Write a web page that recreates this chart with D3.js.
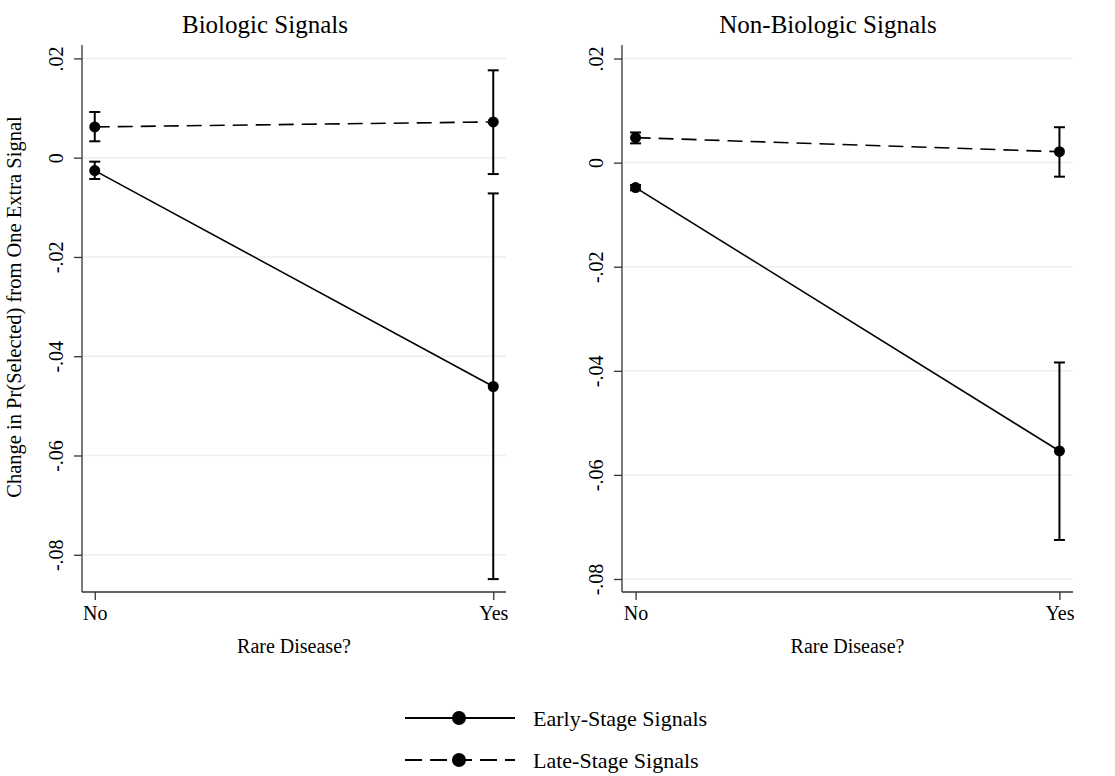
<!DOCTYPE html>
<html>
<head>
<meta charset="utf-8">
<script src="https://cdn.jsdelivr.net/npm/d3@7"></script>
<style>
  html, body { margin: 0; padding: 0; background: #fff; }
  svg { display: block; font-family: "Liberation Serif", "Times New Roman", serif; }
</style>
</head>
<body>
<svg id="chart" width="1115" height="776"></svg>
<script>
// ---------------- data ----------------
const categories = ["No", "Yes"];
const panelTitles = ["Biologic Signals", "Non-Biologic Signals"];
const seriesNames = ["Early-Stage Signals", "Late-Stage Signals"];
const yTicks = [0.02, 0, -0.02, -0.04, -0.06, -0.08];
const yTickLabels = [".02", "0", "-.02", "-.04", "-.06", "-.08"];
const xAxisTitle = "Rare Disease?";
const yAxisTitle = "Change in Pr(Selected) from One Extra Signal";

// Biologic panel
const bioEarly   = [-0.0026, -0.0461];
const bioEarlyLo = [-0.0043, -0.0849];
const bioEarlyHi = [-0.0008, -0.0072];
const bioLate    = [0.0062, 0.0072];
const bioLateLo  = [0.0033, -0.0033];
const bioLateHi  = [0.0092, 0.0176];

// Non-biologic panel
const nonEarly   = [-0.0048, -0.0554];
const nonEarlyLo = [-0.0053, -0.0725];
const nonEarlyHi = [-0.0043, -0.0384];
const nonLate    = [0.0048, 0.0021];
const nonLateLo  = [0.0037, -0.0027];
const nonLateHi  = [0.0058, 0.0068];

// ---------------- layout ----------------
const svg = d3.select("#chart");
const FS = { title: 25, tick: 20, axis: 20, yAxis: 20.5, legend: 22 };
const DASH = "15,8";

const panels = [
  { title: panelTitles[0], x0: 82, x1: 506, titleX: 265, yDomain: [-0.0875, 0.0227], showYTitle: true,
    series: [
      { name: seriesNames[0], v: bioEarly, lo: bioEarlyLo, hi: bioEarlyHi, dash: null },
      { name: seriesNames[1], v: bioLate,  lo: bioLateLo,  hi: bioLateHi,  dash: DASH }
    ] },
  { title: panelTitles[1], x0: 622, x1: 1073, titleX: 828, yDomain: [-0.0825, 0.0226], showYTitle: false,
    series: [
      { name: seriesNames[0], v: nonEarly, lo: nonEarlyLo, hi: nonEarlyHi, dash: null },
      { name: seriesNames[1], v: nonLate,  lo: nonLateLo,  hi: nonLateHi,  dash: DASH }
    ] }
];
const yTop = 45, yBot = 592;
const gridColor = "#e9eff1";
const axisColor = "#333";

panels.forEach(p => {
  const g = svg.append("g");
  const x = d3.scalePoint().domain(categories).range([p.x0, p.x1]).padding(0.032);
  const y = d3.scaleLinear().domain(p.yDomain).range([yBot, yTop]);

  // grid
  g.selectAll("line.grid").data(yTicks).enter().append("line")
    .attr("x1", p.x0).attr("x2", p.x1)
    .attr("y1", d => y(d)).attr("y2", d => y(d))
    .attr("stroke", gridColor).attr("stroke-width", 1.5);

  // y axis
  const yAx = g.append("g").attr("transform", `translate(${p.x0},0)`)
    .call(d3.axisLeft(y).tickValues(yTicks).tickSize(8).tickFormat((d, i) => yTickLabels[i]));
  yAx.select(".domain").attr("stroke", axisColor).attr("stroke-width", 1.3)
    .attr("d", `M0,${yTop}V${yBot}`);
  yAx.selectAll(".tick line").attr("stroke", axisColor).attr("stroke-width", 1.3);
  yAx.selectAll(".tick text")
    .attr("x", null).attr("dy", null)
    .attr("transform", "translate(-19,0) rotate(-90)")
    .attr("text-anchor", "middle")
    .attr("font-size", FS.tick).attr("font-family", "Liberation Serif").attr("fill", "#000");

  // x axis
  const xAx = g.append("g").attr("transform", `translate(0,${yBot})`)
    .call(d3.axisBottom(x).tickSize(8));
  xAx.select(".domain").attr("stroke", axisColor).attr("stroke-width", 1.3)
    .attr("d", `M${p.x0},0H${p.x1}`);
  xAx.selectAll(".tick line").attr("stroke", axisColor).attr("stroke-width", 1.3);
  xAx.selectAll(".tick text").attr("y", 28).attr("dy", null)
    .attr("font-size", FS.tick).attr("font-family", "Liberation Serif").attr("fill", "#000");

  // x axis title
  g.append("text").attr("x", (p.x0 + p.x1) / 2).attr("y", 653)
    .attr("text-anchor", "middle").attr("font-size", FS.axis).text(xAxisTitle);

  // panel title
  g.append("text").attr("x", p.titleX).attr("y", 33)
    .attr("text-anchor", "middle").attr("font-size", FS.title).text(p.title);

  if (p.showYTitle) {
    g.append("text").attr("transform", "translate(21,307) rotate(-90)")
      .attr("text-anchor", "middle").attr("font-size", FS.yAxis).text(yAxisTitle);
  }

  // series
  p.series.forEach(s => {
    const pts = categories.map((c, i) => ({ c, v: s.v[i], lo: s.lo[i], hi: s.hi[i] }));
    const line = d3.line().x(d => x(d.c)).y(d => y(d.v));
    g.append("path").datum(pts).attr("d", line)
      .attr("fill", "none").attr("stroke", "#000").attr("stroke-width", 1.6)
      .attr("stroke-dasharray", s.dash);
    // error bars
    const eb = g.selectAll(null).data(pts).enter().append("g");
    eb.append("line").attr("x1", d => x(d.c)).attr("x2", d => x(d.c))
      .attr("y1", d => y(d.lo)).attr("y2", d => y(d.hi))
      .attr("stroke", "#000").attr("stroke-width", 2);
    eb.append("line").attr("x1", d => x(d.c) - 5.5).attr("x2", d => x(d.c) + 5.5)
      .attr("y1", d => y(d.lo)).attr("y2", d => y(d.lo))
      .attr("stroke", "#000").attr("stroke-width", 2);
    eb.append("line").attr("x1", d => x(d.c) - 5.5).attr("x2", d => x(d.c) + 5.5)
      .attr("y1", d => y(d.hi)).attr("y2", d => y(d.hi))
      .attr("stroke", "#000").attr("stroke-width", 2);
    g.selectAll(null).data(pts).enter().append("circle")
      .attr("cx", d => x(d.c)).attr("cy", d => y(d.v)).attr("r", 5.5).attr("fill", "#000");
  });
});

// ---------------- legend ----------------
const legend = svg.append("g");
const legendRows = d3.scalePoint().domain(seriesNames).range([718, 760]);
const legendDash = [null, "17,8"];
seriesNames.forEach((n, i) => {
  const yy = legendRows(n);
  legend.append("line").attr("x1", 405).attr("x2", 515).attr("y1", yy).attr("y2", yy)
    .attr("stroke", "#000").attr("stroke-width", 2).attr("stroke-dasharray", legendDash[i]);
  legend.append("circle").attr("cx", 459).attr("cy", yy).attr("r", 7).attr("fill", "#000");
  legend.append("text").attr("x", 533).attr("y", yy + 7.5).attr("font-size", FS.legend).text(n);
});
</script>
</body>
</html>
